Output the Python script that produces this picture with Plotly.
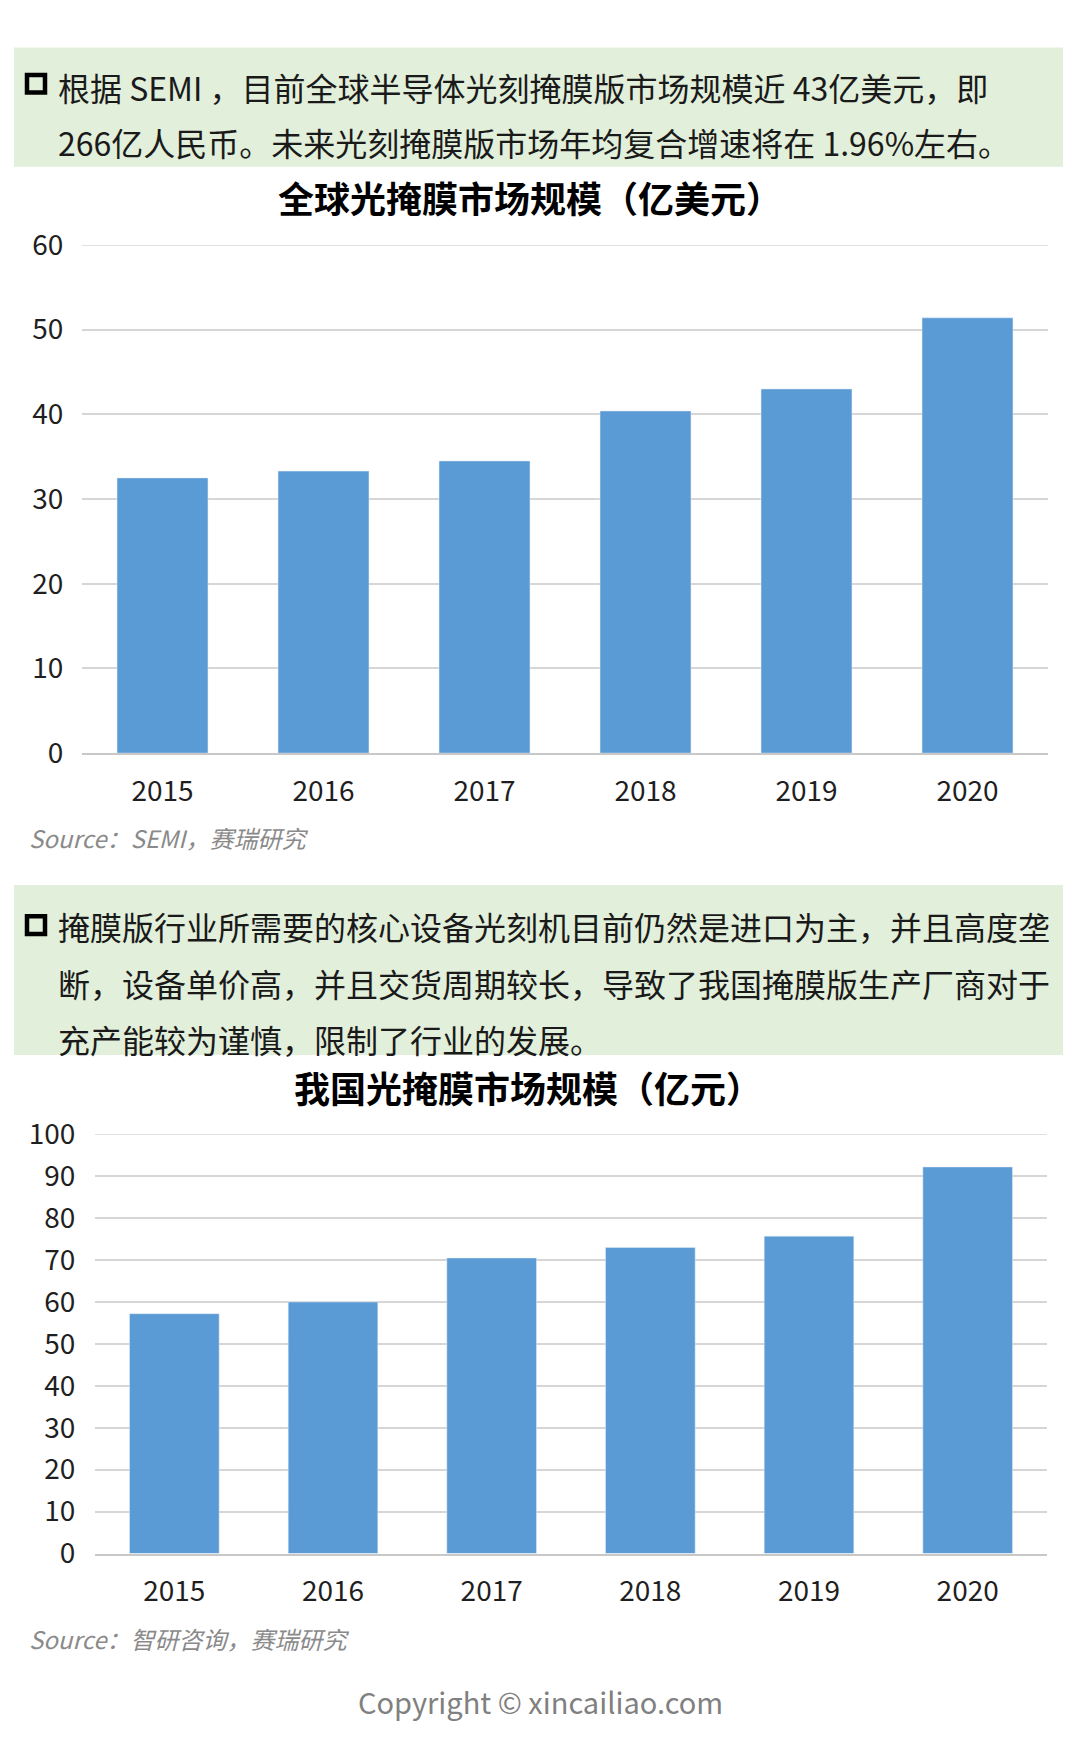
import plotly.graph_objects as go

W, H = 1080, 1757
OFF = 8  # browser body margin offset

years = ["2015", "2016", "2017", "2018", "2019", "2020"]
global_values = [32.5, 33.3, 34.5, 40.4, 43.0, 51.4]
china_values = [57.2, 60.0, 70.5, 73.0, 75.7, 92.2]

title_global = "全球光掩膜市场规模（亿美元）"
title_china = "我国光掩膜市场规模（亿元）"
box1_lines = [
    "根据 SEMI ，目前全球半导体光刻掩膜版市场规模近 43亿美元，即",
    "266亿人民币。未来光刻掩膜版市场年均复合增速将在 1.96%左右。",
]
box2_lines = [
    "掩膜版行业所需要的核心设备光刻机目前仍然是进口为主，并且高度垄",
    "断，设备单价高，并且交货周期较长，导致了我国掩膜版生产厂商对于",
    "充产能较为谨慎，限制了行业的发展。",
]
source1 = "Source：SEMI，赛瑞研究"
source2 = "Source：智研咨询，赛瑞研究"
copyright_text = "Copyright © xincailiao.com"

FONT = "Noto Sans CJK SC, Noto Sans, sans-serif"
BAR = "#5b9bd5"
GRID = "#d6d6d6"
BOXFILL = "#e2efda"


def px(x):
    return (x - OFF) / W


def py(y):
    return 1 - (y - OFF) / H


fig = go.Figure()
fig.add_trace(go.Bar(x=years, y=global_values, marker_color=BAR, xaxis="x", yaxis="y",
                     hoverinfo="skip"))
fig.add_trace(go.Bar(x=years, y=china_values, marker_color=BAR, xaxis="x2", yaxis="y2",
                     hoverinfo="skip"))

tickfont = dict(family=FONT, size=28, color="#1f1f1f")

fig.update_layout(
    width=W, height=H,
    margin=dict(l=0, r=0, t=0, b=0),
    paper_bgcolor="white", plot_bgcolor="white",
    showlegend=False,
    bargap=0.435,
    font=dict(family=FONT),
    xaxis=dict(domain=[px(82), px(1048)], anchor="y", tickfont=tickfont,
               showgrid=False, showline=True, linecolor="#c8c8c8", linewidth=1.5,
               ticks="outside", ticklen=12, tickcolor="rgba(0,0,0,0)"),
    yaxis=dict(domain=[py(748), py(228)], anchor="x", range=[0, 60], dtick=10,
               tickfont=tickfont, showgrid=True, gridcolor=GRID, gridwidth=1.5,
               zeroline=False, showline=False,
               ticks="outside", ticklen=12, tickcolor="rgba(0,0,0,0)"),
    xaxis2=dict(domain=[px(95), px(1047)], anchor="y2", tickfont=tickfont,
                showgrid=False, showline=True, linecolor="#c8c8c8", linewidth=1.5,
                ticks="outside", ticklen=12, tickcolor="rgba(0,0,0,0)"),
    yaxis2=dict(domain=[py(1567), py(1138)], anchor="x2", range=[0, 100], dtick=10,
                tickfont=tickfont, showgrid=True, gridcolor=GRID, gridwidth=1.5,
                zeroline=False, showline=False,
                ticks="outside", ticklen=13, tickcolor="rgba(0,0,0,0)"),
)

shapes = []
# green text boxes
shapes.append(dict(type="rect", xref="paper", yref="paper", x0=px(14), x1=px(1063),
                   y0=py(148), y1=py(26), fillcolor=BOXFILL, line=dict(width=0), layer="below"))
shapes.append(dict(type="rect", xref="paper", yref="paper", x0=px(14), x1=px(1063),
                   y0=py(1057), y1=py(883), fillcolor=BOXFILL, line=dict(width=0), layer="below"))
# square bullets
for yc in (63, 924):
    shapes.append(dict(type="rect", xref="paper", yref="paper", x0=px(27), x1=px(45),
                       y0=py(yc + 9), y1=py(yc - 9), fillcolor="rgba(0,0,0,0)",
                       line=dict(color="black", width=4.5), layer="above"))
# top gridlines at the range maximum (plotly hides grid at the edge)
shapes.append(dict(type="line", xref="x domain", yref="y", x0=0, x1=1, y0=60, y1=60,
                   line=dict(color=GRID, width=1.5)))
shapes.append(dict(type="line", xref="x2 domain", yref="y2", x0=0, x1=1, y0=100, y1=100,
                   line=dict(color=GRID, width=1.5)))
fig.update_layout(shapes=shapes)

ann = []
body = dict(family=FONT, size=32, color="#1a1a1a")
for text, yc in zip(box1_lines, [66, 123]):
    ann.append(dict(text=text, x=px(56), y=py(yc), xref="paper", yref="paper",
                    xanchor="left", yanchor="middle", showarrow=False, font=body))
for text, yc in zip(box2_lines, [925, 983, 1040]):
    ann.append(dict(text=text, x=px(56), y=py(yc), xref="paper", yref="paper",
                    xanchor="left", yanchor="middle", showarrow=False, font=body))

title_font = dict(family=FONT, size=36, color="black")
ann.append(dict(text="<b>" + title_global + "</b>", x=px(530), y=py(179), xref="paper",
                yref="paper", xanchor="center", yanchor="middle", showarrow=False,
                font=title_font))
ann.append(dict(text="<b>" + title_china + "</b>", x=px(528), y=py(1090), xref="paper",
                yref="paper", xanchor="center", yanchor="middle", showarrow=False,
                font=title_font))

src_font = dict(family=FONT, size=24, color="#8a8a8a")
ann.append(dict(text="<i>" + source1 + "</i>", x=px(27), y=py(834), xref="paper",
                yref="paper", xanchor="left", yanchor="middle", showarrow=False,
                font=src_font))
ann.append(dict(text="<i>" + source2 + "</i>", x=px(27), y=py(1654), xref="paper",
                yref="paper", xanchor="left", yanchor="middle", showarrow=False,
                font=src_font))
ann.append(dict(text=copyright_text, x=px(540), y=py(1718), xref="paper", yref="paper",
                xanchor="center", yanchor="middle", showarrow=False,
                font=dict(family=FONT, size=29, color="#808080")))
fig.update_layout(annotations=ann)

fig.write_html("out.html")
